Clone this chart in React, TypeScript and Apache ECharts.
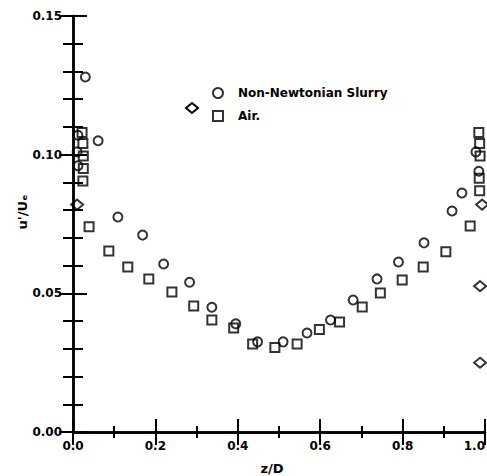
import React, { useEffect, useRef } from "react";
import * as echarts from "echarts";

// z/D positions and u'/Ue values
const slurryX = [0.012, 0.010, 0.012, 0.030, 0.061, 0.109, 0.169, 0.220, 0.283, 0.337, 0.395, 0.448, 0.510, 0.568, 0.625, 0.680, 0.738, 0.790, 0.852, 0.920, 0.944, 0.978, 0.985];
const slurryY = [0.107, 0.101, 0.096, 0.128, 0.105, 0.0775, 0.071, 0.0606, 0.054, 0.045, 0.039, 0.0325, 0.0325, 0.0357, 0.0404, 0.0476, 0.0552, 0.0613, 0.0682, 0.0797, 0.0862, 0.101, 0.094];

const airX = [0.022, 0.024, 0.025, 0.025, 0.024, 0.039, 0.087, 0.133, 0.184, 0.240, 0.293, 0.337, 0.390, 0.436, 0.490, 0.544, 0.598, 0.647, 0.702, 0.746, 0.799, 0.850, 0.905, 0.964, 0.985, 0.987, 0.988, 0.986, 0.987];
const airY = [0.108, 0.104, 0.0995, 0.095, 0.0905, 0.074, 0.0653, 0.0595, 0.0552, 0.0505, 0.0454, 0.0404, 0.0375, 0.0317, 0.0305, 0.0317, 0.037, 0.0397, 0.0451, 0.0501, 0.0548, 0.0595, 0.065, 0.0743, 0.108, 0.104, 0.0995, 0.0915, 0.087];

const wallX = [0.010, 0.993, 0.988, 0.988];
const wallY = [0.082, 0.082, 0.0526, 0.025];

const xTicks = { min: 0, max: 1, interval: 0.2 };
const yTicks = { min: 0, max: 0.15, interval: 0.05 };

const seriesNames = ["Non-Newtonian Slurry", "Air."];

const FONT = "DejaVu Sans";

export default function App() {
  const ref = useRef<HTMLDivElement>(null);
  useEffect(() => {
    if (!ref.current) return;
    const chart = echarts.init(ref.current, null, { renderer: "svg" });
    const pts = (xs: number[], ys: number[]) => xs.map((x, i) => [x, ys[i]]);
    const hollow = { color: "rgba(0,0,0,0)", borderColor: "#000", borderWidth: 2 };
    const axisLine = { show: true, lineStyle: { color: "#000", width: 2.5 } };
    const labelStyle = { color: "#000", fontFamily: FONT, fontWeight: "bold" as const, fontSize: 12 };
    const xCommon = {
      type: "value" as const,
      min: xTicks.min,
      max: xTicks.max,
      interval: xTicks.interval,
      splitLine: { show: false },
      axisLine,
      axisTick: { show: true, inside: true, length: 13, lineStyle: { color: "#000", width: 2 } },
      minorTick: { show: true, splitNumber: 2, length: 6, lineStyle: { color: "#000", width: 2 } },
    };
    const yCommon = {
      type: "value" as const,
      min: yTicks.min,
      max: yTicks.max,
      interval: yTicks.interval,
      splitLine: { show: false },
      axisLine,
      axisTick: { show: true, inside: true, length: 14, lineStyle: { color: "#000", width: 2 } },
      minorTick: { show: true, splitNumber: 5, length: 10, lineStyle: { color: "#000", width: 2 } },
    };
    chart.setOption({
      animation: false,
      backgroundColor: "#fff",
      grid: { left: 73, right: 2, top: 16, bottom: 44, containLabel: false, outerBoundsMode: "none" },
      xAxis: [
        {
          ...xCommon,
          position: "bottom",
          axisLabel: {
            ...labelStyle,
            margin: 8,
            alignMaxLabel: "right",
            formatter: (v: number) => v.toFixed(1),
          },
        },
        { ...xCommon, position: "top", axisLabel: { show: false } },
      ],
      yAxis: [
        {
          ...yCommon,
          position: "left",
          axisLabel: { ...labelStyle, margin: 11, formatter: (v: number) => v.toFixed(2) },
        },
        { ...yCommon, position: "right", axisLabel: { show: false } },
      ],
      legend: {
        orient: "vertical",
        left: 207,
        top: 82,
        itemWidth: 10,
        itemHeight: 10,
        itemGap: 11,
        textStyle: { color: "#000", fontFamily: FONT, fontWeight: "bold", fontSize: 12, padding: [0, 0, 0, 10] },
        data: [
          { name: seriesNames[0], icon: "circle", itemStyle: { ...hollow } },
          { name: seriesNames[1], icon: "rect", itemStyle: { ...hollow } },
        ],
      },
      graphic: [
        {
          type: "polygon",
          x: 192,
          y: 108,
          shape: { points: [[-6, 0], [0, -5], [6, 0], [0, 5]] },
          style: { fill: "none", stroke: "#000", lineWidth: 2 },
        },
        {
          type: "text",
          x: 22,
          y: 212,
          rotation: Math.PI / 2,
          style: {
            text: "u'/Uₑ",
            fill: "#000",
            font: `bold 13px "${FONT}"`,
            align: "center",
            verticalAlign: "middle",
          },
        },
        {
          type: "text",
          x: 272,
          y: 468,
          style: {
            text: "z/D",
            fill: "#000",
            font: `bold 13px "${FONT}"`,
            align: "center",
            verticalAlign: "middle",
          },
        },
      ],
      series: [
        {
          name: seriesNames[0],
          type: "scatter",
          symbol: "circle",
          symbolSize: 9,
          itemStyle: hollow,
          data: pts(slurryX, slurryY),
        },
        {
          name: seriesNames[1],
          type: "scatter",
          symbol: "rect",
          symbolSize: 9,
          itemStyle: hollow,
          data: pts(airX, airY),
        },
        {
          name: "Air wall",
          type: "scatter",
          symbol: "diamond",
          symbolSize: [12, 10],
          itemStyle: hollow,
          data: pts(wallX, wallY),
        },
      ],
    });
    return () => chart.dispose();
  }, []);
  return (
    <div
      ref={ref}
      style={{ position: "fixed", left: 0, top: 0, width: 487, height: 476, background: "#fff" }}
    />
  );
}
